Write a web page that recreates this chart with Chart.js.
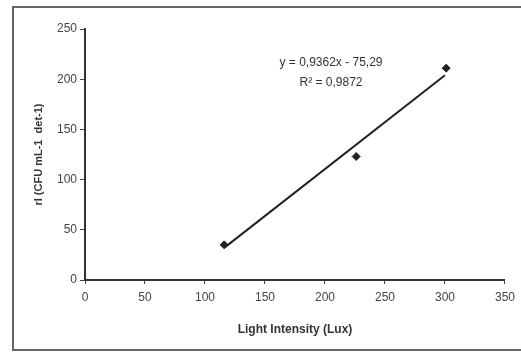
<!DOCTYPE html>
<html>
<head>
<meta charset="utf-8">
<script src="https://cdn.jsdelivr.net/npm/chart.js@4.4.0/dist/chart.umd.min.js"></script>
<style>
  html, body { margin: 0; padding: 0; background: #fff; overflow: hidden; }
  #wrap { position: relative; width: 521px; height: 353px; }
  #frame {
    position: absolute; left: 12px; top: 6px; width: 530px; height: 345px;
    border: 2px solid #666; border-right: none; box-sizing: border-box;
  }
  canvas { position: absolute; left: 0; top: 0; }
</style>
</head>
<body>
<div id="wrap">
  <div id="frame"></div>
  <canvas id="chart" width="521" height="353"></canvas>
</div>
<script>
// measured points
const lightLux = [116, 226, 301];
const rateValues = [35, 123, 211];

// trendline ends
const trendX = [117, 300];
const trendY = [33, 204];

const xTicks = [0, 50, 100, 150, 200, 250, 300, 350];
const yTicks = [0, 50, 100, 150, 200, 250];

const equationLines = ['y = 0,9362x - 75,29', 'R² = 0,9872'];

const fontFamily = '"Liberation Sans", Arial, sans-serif';

// draws the regression label inside the plot
const equationPlugin = {
  id: 'equation',
  afterDatasetsDraw(chart) {
    const { ctx, scales } = chart;
    ctx.save();
    ctx.fillStyle = '#333';
    ctx.font = '12px ' + fontFamily;
    ctx.textAlign = 'center';
    ctx.textBaseline = 'middle';
    const cx = scales.x.getPixelForValue(205);
    ctx.fillText(equationLines[0], cx, scales.y.getPixelForValue(216));
    ctx.fillText(equationLines[1], cx, scales.y.getPixelForValue(197));
    ctx.restore();
  }
};

new Chart(document.getElementById('chart'), {
  type: 'scatter',
  data: {
    datasets: [
      {
        label: 'rI',
        data: lightLux.map((x, i) => ({ x: x, y: rateValues[i] })),
        pointStyle: 'rectRot',
        pointRadius: 4,
        backgroundColor: '#222',
        borderColor: '#222',
        borderWidth: 1
      },
      {
        label: 'trend',
        type: 'line',
        data: trendX.map((x, i) => ({ x: x, y: trendY[i] })),
        borderColor: '#222',
        borderWidth: 2,
        pointRadius: 0,
        fill: false
      }
    ]
  },
  plugins: [equationPlugin],
  options: {
    responsive: false,
    animation: false,
    layout: { padding: { top: 29, right: 14, left: 0, bottom: 0 } },
    plugins: {
      legend: { display: false },
      tooltip: { enabled: false }
    },
    scales: {
      x: {
        type: 'linear',
        min: 0,
        max: 350,
        afterBuildTicks: (axis) => { axis.ticks = xTicks.map(v => ({ value: v })); },
        afterFit: (axis) => { axis.height = 73; },
        grid: { drawOnChartArea: false, tickLength: 4, color: '#444' },
        border: { color: '#333', width: 2 },
        ticks: { color: '#444', font: { family: fontFamily, size: 12 }, padding: 6 },
        title: {
          display: true,
          text: 'Light Intensity (Lux)',
          color: '#333',
          font: { family: fontFamily, size: 12, weight: 'bold' },
          padding: { top: 4, bottom: 16 }
        }
      },
      y: {
        type: 'linear',
        min: 0,
        max: 250,
        afterBuildTicks: (axis) => { axis.ticks = yTicks.map(v => ({ value: v })); },
        afterFit: (axis) => { axis.width = 85; },
        grid: { drawOnChartArea: false, tickLength: 5, color: '#444' },
        border: { color: '#333', width: 2 },
        ticks: { color: '#444', font: { family: fontFamily, size: 12 }, padding: 3 },
        title: {
          display: true,
          text: 'rI (CFU mL-1  det-1)',
          color: '#333',
          font: { family: fontFamily, size: 11, weight: 'bold' },
          padding: { top: 32, bottom: 4 }
        }
      }
    }
  }
});
</script>
</body>
</html>
